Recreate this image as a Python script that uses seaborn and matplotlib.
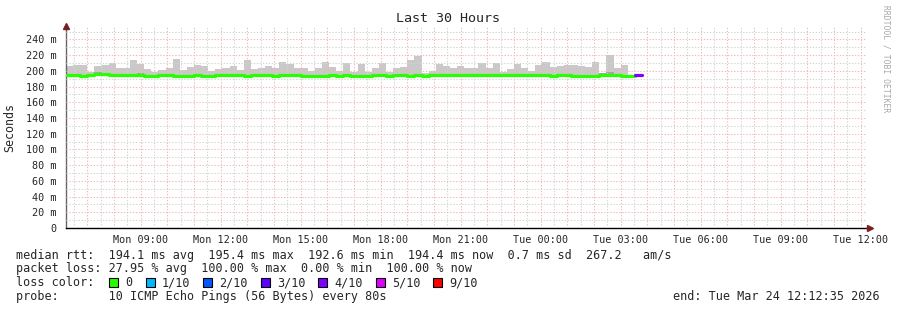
import numpy as np
import pandas as pd
import matplotlib
matplotlib.use("Agg")
import matplotlib.pyplot as plt
from matplotlib.patches import Rectangle
from matplotlib.ticker import MultipleLocator, FuncFormatter
import seaborn as sns

# ---------------- data ----------------
start_hour = 6.2          # Mon 06:12 (hours since Mon 00:00)
end_hour = 36.2           # Tue 12:12
step_hours = 16 / 60      # RRD step (16 min)

rtt_max = [206, 208, 208, 198, 206, 208, 210, 203, 203, 214,
           209, 202, 198, 201, 203, 215, 201, 205, 208, 206,
           200, 202, 203, 206, 201, 214, 202, 203, 206, 204,
           211, 209, 204, 204, 200, 203, 211, 205, 200, 210,
           199, 209, 198, 203, 210, 199, 203, 205, 214, 219,
           197, 200, 209, 206, 203, 206, 203, 203, 210, 203,
           210, 198, 202, 209, 203, 200, 207, 211, 205, 206,
           208, 208, 206, 205, 211, 197, 220, 203, 207, 203, np.nan]

rtt_median = [194.5, 194.5, 193.0, 194.2, 195.3, 195.3, 195.2, 194.8, 194.5, 194.5,
              194.3, 194.0, 194.0, 194.2, 194.2, 193.8, 194.0, 194.0, 194.2, 194.0,
              194.0, 194.4, 194.4, 194.4, 194.5, 193.2, 194.5, 194.5, 194.3, 194.0,
              194.2, 194.5, 194.3, 194.0, 193.5, 193.0, 193.0, 194.3, 193.0, 194.3,
              193.2, 193.0, 193.2, 194.4, 194.5, 193.0, 194.4, 194.6, 193.0, 194.4,
              193.0, 194.5, 195.2, 194.6, 194.5, 194.5, 194.5, 194.5, 194.5, 194.5,
              194.5, 194.5, 194.5, 194.5, 194.5, 194.5, 194.5, 194.5, 193.0, 194.4,
              194.3, 193.4, 193.4, 193.6, 193.8, 194.5, 194.5, 194.5, 193.2, 193.4, 194.4]

# darker smoke band (top of band, NaN = none)
rtt_dense = [np.nan] * 81
for i, v in {4: 198, 5: 198, 10: 197.5, 11: 197, 19: 197.5, 25: 197.5, 30: 198,
             46: 197.5, 49: 197.5, 75: 197.5, 76: 198, 77: 197}.items():
    rtt_dense[i] = v

loss_per_step = [0] * 80 + [4]

loss_labels = ["0", "1/10", "2/10", "3/10", "4/10", "5/10", "9/10"]
loss_colors = ["#26ff00", "#00b8ff", "#0059ff", "#5e00ff", "#7e00ff", "#dd00ff", "#ff0000"]
loss_color_by_count = {0: "#26ff00", 1: "#00b8ff", 2: "#0059ff", 3: "#5e00ff",
                       4: "#7e00ff", 5: "#dd00ff", 9: "#ff0000"}

x_tick_hours = [9, 12, 15, 18, 21, 24, 27, 30, 33, 36]
x_tick_labels = ["Mon 09:00", "Mon 12:00", "Mon 15:00", "Mon 18:00", "Mon 21:00",
                 "Tue 00:00", "Tue 03:00", "Tue 06:00", "Tue 09:00", "Tue 12:00"]
y_ticks = [0, 20, 40, 60, 80, 100, 120, 140, 160, 180, 200, 220, 240]

stats_lines = [
    "median rtt:  194.1 ms avg  195.4 ms max  192.6 ms min  194.4 ms now  0.7 ms sd  267.2   am/s",
    "packet loss: 27.95 % avg  100.00 % max  0.00 % min  100.00 % now",
    "loss color:",
    "probe:       10 ICMP Echo Pings (56 Bytes) every 80s",
]
end_text = "end: Tue Mar 24 12:12:35 2026"
title = "Last 30 Hours"

# ---------------- style ----------------
sns.set_style("white")
plt.rcParams["font.family"] = ["DejaVu Sans Mono", "DejaVu Sans"]

W, H = 897, 310
fig = plt.figure(figsize=(W / 100, H / 100), dpi=100)
fig.patch.set_facecolor("white")
L, R, T, B = 66, 866, 26, 228
ax = fig.add_axes([L / W, (H - B) / H, (R - L) / W, (B - T) / H])
ax.set_facecolor("white")

n = len(rtt_median)
t = start_hour + np.arange(n) * step_hours
t_edges = np.append(t, t[-1] + step_hours)
med = np.array(rtt_median)
mx = np.array(rtt_max)
dense = np.array(rtt_dense)
lo = med - 1.8

def ext(a):
    return np.append(a, a[-1])

ax.fill_between(t_edges, ext(lo), ext(mx), step="post", color="#c9c9c9", lw=0, zorder=1)
ax.fill_between(t_edges, ext(med), ext(dense), step="post", color="#a6a6a6", lw=0, zorder=1.2)

# median line, split into runs of equal loss colour
runs = []
cur = [0]
for i in range(1, n):
    if loss_per_step[i] == loss_per_step[cur[0]]:
        cur.append(i)
    else:
        runs.append(cur)
        cur = [i]
runs.append(cur)
for r in runs:
    xs = list(t[r]) + [t[r[-1]] + step_hours]
    ys = list(med[r]) + [med[r[-1]]]
    df = pd.DataFrame({"t": xs, "rtt": ys})
    sns.lineplot(data=df, x="t", y="rtt", ax=ax, drawstyle="steps-post",
                 color=loss_color_by_count[loss_per_step[r[0]]], lw=2.3,
                 zorder=4, estimator=None)

ax.set_xlim(start_hour, end_hour)
ax.set_ylim(0, 257)
ax.set_xlabel("")
ax.set_ylabel("")

# grid
ax.xaxis.set_major_locator(MultipleLocator(1))
ax.xaxis.set_minor_locator(MultipleLocator(0.5))
ax.yaxis.set_major_locator(MultipleLocator(20))
ax.yaxis.set_minor_locator(MultipleLocator(10))
ax.set_axisbelow(False)
ax.grid(which="minor", color="#d4d4d4", lw=0.75, linestyle=(0, (1.3, 1.6)), zorder=2)
ax.grid(which="major", color="#f5b8b8", lw=0.75, linestyle=(0, (1.3, 1.6)), zorder=2.1)

lab_map = dict(zip(x_tick_hours, x_tick_labels))
ax.xaxis.set_major_formatter(FuncFormatter(lambda v, p: lab_map.get(int(round(v)), "")
                                           if abs(v - round(v)) < 1e-6 else ""))
ax.yaxis.set_major_formatter(FuncFormatter(lambda v, p: "0" if v == 0 else f"{int(v)} m"))
ax.tick_params(axis="x", which="both", length=2, width=0.7, pad=3, labelsize=7.3, color="#444444")
ax.tick_params(axis="y", which="both", length=2, width=0.7, pad=4.5, labelsize=7.3, color="#444444")
ax.tick_params(which="minor", length=0)

for s in ["top", "right"]:
    ax.spines[s].set_visible(False)
ax.spines["left"].set_color("#666666")
ax.spines["left"].set_linewidth(1)
ax.spines["bottom"].set_color("black")
ax.spines["bottom"].set_linewidth(1)

# arrows
arrow_c = "#7a1f1f"
ax.plot([0], [1.0], marker="^", markersize=4.5, color=arrow_c, transform=ax.transAxes,
        clip_on=False, zorder=6)
ax.plot([1.005], [0], marker=">", markersize=4.5, color=arrow_c, transform=ax.transAxes,
        clip_on=False, zorder=6)

# texts
fig.text(447.5 / W, 1 - 19 / H, title, ha="center", va="center", fontsize=9.6)
fig.text(10 / W, 1 - 127 / H, "Seconds", rotation=90, ha="center", va="center", fontsize=8.4)
fig.text(886 / W, 1 - 59 / H, "RRDTOOL / TOBI OETIKER", rotation=270, ha="center",
         va="center", fontsize=5.8, color="#a8a8a8")

ys_txt = [255, 268.5, 282.5, 296.5]
for line, yy in zip(stats_lines, ys_txt):
    fig.text(16 / W, 1 - yy / H, line, ha="left", va="center", fontsize=8.5)

sq_x = [109, 146, 203, 261, 318, 376, 433]
for c, lab, sx in zip(loss_colors, loss_labels, sq_x):
    fig.add_artist(Rectangle((sx / W, 1 - 287 / H), 9 / W, 9 / H, transform=fig.transFigure,
                             facecolor=c, edgecolor="black", lw=0.8))
    fig.text((sx + 16) / W, 1 - 282.5 / H, lab, ha="left", va="center", fontsize=8.5)

fig.text(880 / W, 1 - 296.5 / H, end_text, ha="right", va="center", fontsize=8.5)

fig.savefig("out.png", dpi=100, facecolor="white")
